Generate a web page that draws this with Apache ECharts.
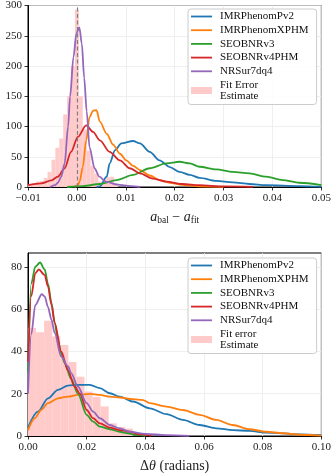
<!DOCTYPE html>
<html><head><meta charset="utf-8">
<script src="https://cdn.jsdelivr.net/npm/echarts@6/dist/echarts.min.js"></script>
<style>html,body{margin:0;padding:0;background:#fff}#c{width:334px;height:476px}</style>
</head><body><div id="c"></div>
<script>
// ---------- Top panel: a_bal - a_fit ----------
const topPv2X  = [0.0040,0.0047,0.0061,0.0067,0.0078,0.0091,0.0115,0.0129,0.0149,0.0169,0.0190,0.0210,0.0231,0.0251,0.0285,0.0319,0.0353,0.0387,0.0455,0.0500];
const topPv2Y  = [0,1,17,39,61,72,76,72,58,44,33,25,20,15,10,7.7,5,3,1.6,0.5];
const topXPX   = [-0.0005,0.0002,0.0006,0.0012,0.0019,0.0026,0.0033,0.0040,0.0047,0.0061,0.0074,0.0088,0.0101,0.0115,0.0129,0.0149,0.0169,0.0190,0.0216,0.0250,0.0300];
const topXPY   = [0,3,10,33,77,116,126,127,108,88,70,55,44,35,28,19,11.5,7,3.5,1.2,0.3];
const topV3X   = [-0.0020,0.0013,0.0047,0.0081,0.0115,0.0149,0.0183,0.0210,0.0231,0.0251,0.0285,0.0319,0.0353,0.0387,0.0421,0.0455,0.0500];
const topV3Y   = [0,1.6,5,11.5,20,31,39,41.7,39,33.5,29,25,22.5,17,11.5,7,3];
const topV4X   = [-0.0100,-0.0073,-0.0052,-0.0039,-0.0025,-0.0012,0.0002,0.0019,0.0033,0.0047,0.0067,0.0088,0.0108,0.0129,0.0155,0.0183,0.0216,0.0250,0.0300,0.0360];
const topV4Y   = [3,6,11,17,31,58,83,102,91,77,58,44,31,22.5,14,9,5,3,1,0.2];
const topNRX   = [-0.0055,-0.0045,-0.0039,-0.0032,-0.0025,-0.0018,-0.0014,-0.0007,-0.0001,0.0005,0.0010,0.0015,0.0020,0.0026,0.0036,0.0046,0.0059,0.0083,0.0110,0.0130];
const topNRY   = [0,3,7,17,39,100,149,215,254,264,237,180,125,65,31,17,9,4,1.5,0.3];
const topBinWidth = 0.0008;
const topBinCenters = [-0.0096,-0.0088,-0.0080,-0.0072,-0.0064,-0.0056,-0.0048,-0.0040,-0.0032,-0.0024,-0.0016,-0.0008,0.0000,0.0008,0.0016,0.0024,0.0032,0.0040,0.0048,0.0056,0.0064,0.0072,0.0080];
const topBinCounts  = [4,6,9,10,15,25,45,65,80,120,150,200,293,150,95,60,35,22,9,12,16,17,6];
const topXTicks = [-0.01,0.05,0.01];   // min, max, step
const topYTicks = [0,300,50];

// ---------- Bottom panel: Δθ ----------
const botPv2X = [0,0.0034,0.0068,0.0102,0.0136,0.0170,0.0211,0.0245,0.0279,0.0313,0.0358,0.0415,0.0472,0.0528,0.0585,0.0642,0.0698,0.0755,0.0812,0.0925,0.1000];
const botPv2Y = [4,11.5,17.8,21.8,23.8,24.2,24.2,22.6,20.2,18.6,16.3,13.1,10.3,7.6,5.2,3.6,2.8,2.4,1.6,0.8,0.4];
const botXPX  = [0,0.0023,0.0045,0.0068,0.0102,0.0136,0.0170,0.0211,0.0245,0.0279,0.0313,0.0358,0.0392,0.0415,0.0472,0.0528,0.0585,0.0642,0.0698,0.0755,0.0812,0.0870,0.0925,0.1000];
const botXPY  = [2.8,8.4,12.3,15.5,17.8,18.6,19.4,19.9,19.4,18.6,18.2,17.4,17,15.5,13.9,12.3,10,7.6,5.2,3.2,2,1.3,0.6,0.2];
const botV3X  = [0,0.0011,0.0025,0.0041,0.0057,0.0068,0.0080,0.0091,0.0102,0.0113,0.0125,0.0147,0.0170,0.0200,0.0222,0.0245,0.0279,0.0313,0.0340,0.0370,0.0400];
const botV3Y  = [30,72,80,82,78.7,72,63,53.5,45.5,39,34.5,27,20,10,6.8,4.4,3.2,2,1.3,0.5,0.1];
const botV4X  = [0,0.0011,0.0025,0.0037,0.0057,0.0068,0.0080,0.0091,0.0113,0.0136,0.0159,0.0177,0.0200,0.0222,0.0245,0.0279,0.0313,0.0347,0.0380,0.0420];
const botV4Y  = [35,66,77,78.7,76,70.8,62,53.5,40,31,23.4,20,12.3,8.4,6,4,2.8,2,0.8,0.2];
const botNRX  = [0,0.0011,0.0025,0.0047,0.0057,0.0068,0.0080,0.0091,0.0113,0.0136,0.0147,0.0170,0.0200,0.0222,0.0245,0.0279,0.0313,0.0347,0.0400,0.0470,0.0550];
const botNRY  = [20,48,62,67,66,61,55,48.7,37.6,33,29.7,23.4,15.5,11.5,8.4,5.2,3.6,2,1,0.4,0.1];
const botBinWidth = 0.00275;
const botBinCenters = [0.001375,0.004125,0.006875,0.009625,0.012375,0.015125,0.017875,0.020625,0.023375,0.026125,0.028875,0.031625,0.034375];
const botBinCounts  = [51,49,54.5,47,43,35,28,21,18.5,14,6,4.2,3.5];
const botXTicks = [0,0.1,0.02];
const botYTicks = [0,86.5,20];
const botYLabels = [0,20,40,60,80];

const names = ['IMRPhenomPv2','IMRPhenomXPHM','SEOBNRv3','SEOBNRv4PHM','NRSur7dq4'];
const colors = ['#1f77b4','#ff7f0e','#2ca02c','#d62728','#9467bd'];
const pink = '#ffcaca';
const FONT = 'Liberation Serif';
const LINE_ICON = 'path://M0,0L0,0M0,2.6L21,2.6L21,4.4L0,4.4ZM21,7L21,7';

function zip(xs, ys){ return xs.map((x,i)=>[x, ys[i]]); }
function bins(c, h, w){ return c.map((x,i)=>[x-w/2, x+w/2, h[i]]); }

const histRender = function(params, api){
  const p0 = api.coord([api.value(0), api.value(2)]);
  const p1 = api.coord([api.value(1), 0]);
  return {type:'rect', shape:{x:p0[0], y:p0[1], width:p1[0]-p0[0], height:p1[1]-p0[1]}, style:{fill:pink}};
};

function lineSeries(name, idx, data, color){
  return {type:'line', name, xAxisIndex:idx, yAxisIndex:idx, data, showSymbol:false, symbol:'none',
    smooth:0.3, smoothMonotone:'x', lineStyle:{color, width:1.8}, itemStyle:{color}, z:3, silent:true, animation:false};
}

const xfmt = v => (v < -1e-9 ? '\u2212' : '') + Math.abs(v).toFixed(2);
const axisCommon = {
  axisLine:{show:true, onZero:false, lineStyle:{color:'#000', width:1}},
  axisTick:{show:true, inside:false, length:3.5, lineStyle:{color:'#000', width:0.8}},
  splitLine:{show:true, lineStyle:{color:'#ebebeb', width:0.8}},
  axisLabel:{color:'#222', fontFamily:FONT, fontSize:11, margin:6}
};
function xAxis(idx, t, name){
  return Object.assign({}, JSON.parse(JSON.stringify(axisCommon)), {type:'value', gridIndex:idx, min:t[0], max:t[1], interval:t[2],
    axisLabel:Object.assign({}, axisCommon.axisLabel, {formatter:xfmt, showMaxLabel:true, showMinLabel:true}),
    name, nameLocation:'middle', nameGap:22,
    nameTextStyle:{color:'#222', fontFamily:FONT, fontSize:14, lineHeight:16,
      rich:{
        i:{fontFamily:FONT, fontStyle:'italic', fontSize:14, color:'#222', lineHeight:16},
        n:{fontFamily:FONT, fontSize:14, color:'#222', lineHeight:16},
        s:{fontFamily:FONT, fontSize:9.5, color:'#222', lineHeight:16, verticalAlign:'bottom', padding:[5,0,0,0]}
      }}});
}
function yAxis(idx, t, custom){
  const a = Object.assign({}, JSON.parse(JSON.stringify(axisCommon)), {type:'value', gridIndex:idx, min:t[0], max:t[1], interval:t[2]});
  a.axisLabel = Object.assign({}, axisCommon.axisLabel);
  if (custom){
    a.axisLabel.customValues = custom;
    a.axisTick.customValues = custom;
  }
  return a;
}

const series = [];
series.push({type:'custom', name:'Fit Error\nEstimate', xAxisIndex:0, yAxisIndex:0, renderItem:histRender,
  data:bins(topBinCenters, topBinCounts, topBinWidth), encode:{x:[0,1], y:2}, itemStyle:{color:pink}, z:1, silent:true, clip:true});
series.push({type:'line', name:'zero', xAxisIndex:0, yAxisIndex:0, data:[], silent:true,
  markLine:{symbol:['none','none'], silent:true, label:{show:false},
    lineStyle:{color:'#7f7f7f', type:[4,2.5], width:1.2}, data:[{xAxis:0}]}, z:2});
const topSets = [zip(topPv2X,topPv2Y), zip(topXPX,topXPY), zip(topV3X,topV3Y), zip(topV4X,topV4Y), zip(topNRX,topNRY)];
topSets.forEach((d,i)=>series.push(lineSeries(names[i], 0, d, colors[i])));

series.push({type:'custom', name:'Fit error\nEstimate', xAxisIndex:1, yAxisIndex:1, renderItem:histRender,
  data:bins(botBinCenters, botBinCounts, botBinWidth), encode:{x:[0,1], y:2}, itemStyle:{color:pink}, z:1, silent:true, clip:true});
const botSets = [zip(botPv2X,botPv2Y), zip(botXPX,botXPY), zip(botV3X,botV3Y), zip(botV4X,botV4Y), zip(botNRX,botNRY)];
botSets.forEach((d,i)=>series.push(lineSeries(names[i], 1, d, colors[i])));

function legend(top, histName){
  return {left:188, top, orient:'vertical', itemWidth:21, itemHeight:7, itemGap:2.7,
    padding:[2,8,3,3], backgroundColor:'rgba(255,255,255,0.85)', borderColor:'#cccccc', borderWidth:1, borderRadius:3,
    selectedMode:false, itemStyle:{borderWidth:0}, lineStyle:{width:0},
    textStyle:{fontFamily:FONT, fontSize:11, lineHeight:11, color:'#111', padding:[0,0,0,3]},
    data:names.map((n,i)=>({name:n, icon:LINE_ICON, itemStyle:{color:colors[i], borderWidth:0}}))
      .concat([{name:histName, icon:'rect', itemStyle:{color:pink, borderWidth:0}}])};
}

const chart = echarts.init(document.getElementById('c'), null, {renderer:'canvas'});
chart.setOption({
  animation:false,
  backgroundColor:'#fff',
  grid:[
    {left:28, right:12, top:5, height:182, show:true, borderColor:'#000', borderWidth:1, backgroundColor:'transparent'},
    {left:28, right:12, top:253, height:183, show:true, borderColor:'#000', borderWidth:1, backgroundColor:'transparent'}
  ],
  xAxis:[
    xAxis(0, topXTicks, '{i|a}{s|bal}{n| \u2212 }{i|a}{s|fit}'),
    xAxis(1, botXTicks, '{n|\u0394}{i|\u03b8}{n| (radians)}')
  ],
  yAxis:[ yAxis(0, topYTicks), yAxis(1, botYTicks, botYLabels) ],
  legend:[ legend(9, 'Fit Error\nEstimate'), legend(258, 'Fit error\nEstimate') ],
  series
});
</script></body></html>
